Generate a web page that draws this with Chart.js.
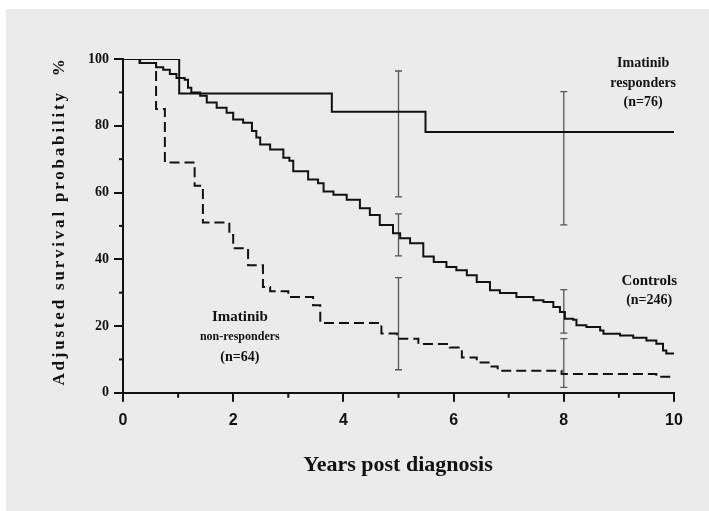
<!DOCTYPE html>
<html>
<head>
<meta charset="utf-8">
<script src="https://cdn.jsdelivr.net/npm/chart.js@4"></script>
<style>
	body { margin: 0; background: #fff; }
	#wrap { width: 709px; height: 511px; }
</style>
</head>
<body>
<div id="wrap"><canvas id="km" width="709" height="511"></canvas></div>
<script>
// Kaplan-Meier steps: years post diagnosis -> adjusted survival %
const respYears = [0, 1.02, 3.79, 5.49, 10];
const respSurv = [100, 89.7, 84.2, 78.1, 78.1];

const ctrlYears = [0, 0.31, 0.6, 0.73, 0.85, 0.97, 1.12, 1.18, 1.24, 1.4, 1.52, 1.7, 1.88, 2.0, 2.18, 2.34, 2.42, 2.49,
	2.67, 2.91, 3.02, 3.09, 3.36, 3.54, 3.64, 3.82, 4.06, 4.3, 4.48, 4.66, 4.9, 5.03, 5.21, 5.45, 5.64, 5.87, 6.05,
	6.24, 6.42, 6.66, 6.84, 7.14, 7.45, 7.63, 7.81, 7.93, 8.02, 8.17, 8.23, 8.41, 8.66, 8.72, 9.02, 9.26, 9.5, 9.68,
	9.8, 9.86, 10];
const ctrlSurv = [100, 98.8, 97.5, 96.8, 95.5, 94.3, 93.8, 91.4, 90.0, 89.0, 87.0, 85.4, 83.9, 81.9, 80.9, 78.4, 76.5, 74.4,
	72.9, 70.4, 69.5, 66.4, 63.9, 62.8, 60.3, 59.3, 57.8, 55.3, 53.3, 50.3, 47.8, 46.3, 44.8, 40.8, 39.2, 37.7, 36.7,
	35.2, 33.2, 30.7, 29.9, 28.7, 27.7, 27.2, 25.7, 24.2, 22.2, 21.9, 20.2, 19.7, 18.7, 17.7, 17.2, 16.5, 15.7, 14.7,
	12.7, 11.8, 11.8];

const nonYears = [0, 0.3, 0.6, 0.76, 1.3, 1.45, 1.93, 2.0, 2.27, 2.54, 2.67, 3.0, 3.45, 3.58, 4.69, 4.97, 5.36, 5.93,
	6.15, 6.42, 6.66, 6.8, 7.96, 9.68, 10];
const nonSurv = [100, 98.8, 85, 69, 62, 51, 47.3, 43.3, 38.2, 31.7, 30.4, 28.7, 26.2, 20.9, 17.8, 16.2, 14.6, 13.6,
	10.6, 9.1, 7.9, 6.6, 5.6, 4.8, 4.8];

// confidence intervals at 5 and 8 years
const ciYears = [5, 8];
const respLow = [58.7, 50.3];
const respHigh = [96.4, 90.2];
const ctrlLow = [41.0, 17.9];
const ctrlHigh = [53.6, 30.9];
const nonLow = [6.9, 1.6];
const nonHigh = [34.5, 16.2];

const xTicks = [0, 2, 4, 6, 8, 10];
const yTicks = [0, 20, 40, 60, 80, 100];

const ink = '#111';
const serif = '"Liberation Serif", "Times New Roman", serif';
const sans = '"Liberation Sans", Arial, sans-serif';

const toPoints = (xs, ys) => xs.map((x, i) => ({ x, y: ys[i] }));

// each interval is a vertical segment; a null point breaks the line between them
const ciPoints = (lows, highs) => {
	const pts = [];
	ciYears.forEach((x, i) => {
		pts.push({ x, y: lows[i] }, { x, y: highs[i] }, { x, y: null });
	});
	return pts;
};

const curve = (data, dash) => ({
	data,
	borderColor: ink,
	borderWidth: 2,
	borderDash: dash || [],
	stepped: 'before',
	pointRadius: 0,
	fill: false
});

const ci = (data) => ({
	data,
	borderColor: '#555',
	borderWidth: 1.3,
	pointStyle: 'line',
	pointRadius: 3.5,
	pointBorderWidth: 1.3,
	pointBorderColor: '#555',
	spanGaps: false,
	fill: false
});

const backdrop = {
	id: 'backdrop',
	beforeDraw(chart) {
		const ctx = chart.ctx;
		ctx.save();
		ctx.fillStyle = '#fff';
		ctx.fillRect(0, 0, chart.width, chart.height);
		ctx.fillStyle = '#ebebeb';
		ctx.fillRect(6, 9, chart.width - 6, chart.height - 9);
		ctx.restore();
	}
};

// short ticks at the odd years / odd tens, plus titles and curve labels
const decor = {
	id: 'decor',
	afterDraw(chart) {
		const ctx = chart.ctx;
		const xs = chart.scales.x;
		const ys = chart.scales.y;
		const area = chart.chartArea;
		ctx.save();
		ctx.strokeStyle = ink;
		ctx.lineWidth = 2;
		for (let v = 1; v < 10; v += 2) {
			const px = xs.getPixelForValue(v);
			ctx.beginPath();
			ctx.moveTo(px, area.bottom);
			ctx.lineTo(px, area.bottom + 5);
			ctx.stroke();
		}
		for (let v = 10; v < 100; v += 20) {
			const py = ys.getPixelForValue(v);
			ctx.beginPath();
			ctx.moveTo(area.left - 4, py);
			ctx.lineTo(area.left, py);
			ctx.stroke();
		}

		ctx.fillStyle = ink;
		ctx.textAlign = 'center';
		ctx.textBaseline = 'middle';
		const label = (text, x, y, size) => {
			ctx.font = `bold ${size}px ${serif}`;
			ctx.fillText(text, xs.getPixelForValue(x), ys.getPixelForValue(y));
		};
		label('Imatinib', 9.44, 98.8, 14);
		label('responders', 9.44, 92.8, 14);
		label('(n=76)', 9.44, 87, 14);
		label('Controls', 9.55, 33.4, 15);
		label('(n=246)', 9.55, 27.7, 14);
		label('Imatinib', 2.12, 22.6, 15);
		label('non-responders', 2.12, 16.6, 12);
		label('(n=64)', 2.12, 10.5, 14);

		ctx.font = `bold 22px ${serif}`;
		ctx.fillText('Years post diagnosis', 398, 465);

		ctx.translate(60, 221);
		ctx.rotate(-Math.PI / 2);
		ctx.font = `bold 17px ${serif}`;
		ctx.letterSpacing = '2.8px';
		ctx.fillText('Adjusted survival probability  %', 0, 0);
		ctx.restore();
	}
};

new Chart(document.getElementById('km'), {
	type: 'line',
	data: {
		datasets: [
			curve(toPoints(respYears, respSurv)),
			curve(toPoints(ctrlYears, ctrlSurv)),
			curve(toPoints(nonYears, nonSurv), [10, 5]),
			ci(ciPoints(respLow, respHigh)),
			ci(ciPoints(ctrlLow, ctrlHigh)),
			ci(ciPoints(nonLow, nonHigh))
		]
	},
	options: {
		responsive: false,
		animation: false,
		layout: { padding: { left: 83, right: 35, top: 59, bottom: 72 } },
		scales: {
			x: {
				type: 'linear',
				min: 0, max: 10,
				afterBuildTicks: axis => { axis.ticks = xTicks.map(value => ({ value })); },
				ticks: { color: ink, padding: 9, font: { family: sans, size: 16, weight: 'bold' } },
				grid: { drawOnChartArea: false, tickLength: 9, color: ink, lineWidth: 2 },
				border: { color: ink, width: 2 }
			},
			y: {
				min: 0, max: 100,
				afterBuildTicks: axis => { axis.ticks = yTicks.map(value => ({ value })); },
				ticks: { color: ink, padding: 5, font: { family: serif, size: 14, weight: 'bold' } },
				grid: { drawOnChartArea: false, tickLength: 9, color: ink, lineWidth: 2 },
				border: { color: ink, width: 2 }
			}
		},
		plugins: { legend: { display: false }, tooltip: { enabled: false } }
	},
	plugins: [backdrop, decor]
});
</script>
</body>
</html>
